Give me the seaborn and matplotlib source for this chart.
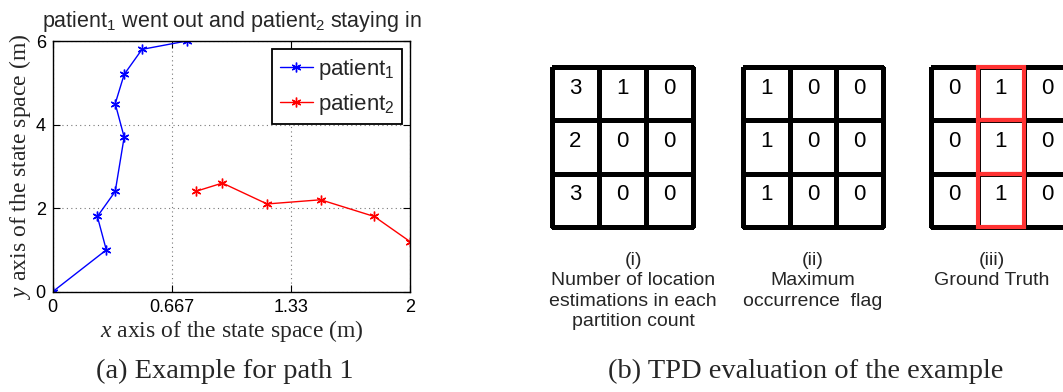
import numpy as np
import pandas as pd
import matplotlib
matplotlib.use("Agg")
import matplotlib.pyplot as plt
import seaborn as sns
from matplotlib.colors import ListedColormap
from matplotlib.patches import Rectangle

# ---------------- data ----------------
p1_x = [0.0, 0.30, 0.25, 0.35, 0.40, 0.35, 0.40, 0.50, 0.75]
p1_y = [0.0, 1.0, 1.8, 2.4, 3.7, 4.5, 5.2, 5.8, 6.0]
p2_x = [0.80, 0.95, 1.20, 1.50, 1.80, 2.00]
p2_y = [2.4, 2.6, 2.1, 2.2, 1.8, 1.2]
series_labels = ["patient$_1$", "patient$_2$"]
x_ticks = [0, 0.667, 1.333, 2]
x_tick_labels = ["0", "0.667", "1.33", "2"]
y_ticks = [0, 2, 4, 6]
y_tick_labels = ["0", "2", "4", "6"]

count_grid = [[3, 1, 0], [2, 0, 0], [3, 0, 0]]
flag_grid = [[1, 0, 0], [1, 0, 0], [1, 0, 0]]
truth_grid = [[0, 1, 0], [0, 1, 0], [0, 1, 0]]
grid_captions = ["(i)\nNumber of location\nestimations in each\npartition count",
                 "(ii)\nMaximum\noccurrence  flag",
                 "(iii)\nGround Truth"]

sns.set_style("ticks")
plt.rcParams["font.family"] = ["Liberation Sans", "DejaVu Sans"]
plt.rcParams["mathtext.fontset"] = "custom"
plt.rcParams["mathtext.rm"] = "Liberation Sans"
plt.rcParams["mathtext.it"] = "Liberation Serif:italic"

W, H = 1063, 392
fig = plt.figure(figsize=(W / 100, H / 100), dpi=100)

def px_rect(x0, y0, x1, y1):
    return [x0 / W, 1 - y1 / H, (x1 - x0) / W, (y1 - y0) / H]

# ---------------- (a) trajectory plot ----------------
ax = fig.add_axes(px_rect(52.7, 41, 410, 291.7))
ast = (6, 2, 0)
sns.lineplot(x=p1_x, y=p1_y, sort=False, estimator=None, color="blue",
             marker=ast, markersize=7, markeredgewidth=1.0, markeredgecolor="blue",
             linewidth=1.0, label=series_labels[0], ax=ax)
sns.lineplot(x=p2_x, y=p2_y, sort=False, estimator=None, color="red",
             marker=ast, markersize=7, markeredgewidth=1.0, markeredgecolor="red",
             linewidth=1.0, label=series_labels[1], ax=ax)
ax.set_xlim(0, 2)
ax.set_ylim(0, 6)
ax.set_xticks(x_ticks)
ax.set_xticklabels(x_tick_labels)
ax.set_yticks(y_ticks)
ax.set_yticklabels(y_tick_labels)
ax.tick_params(direction="in", top=True, right=True, length=5, width=0.8,
               labelsize=13, pad=5, colors="black")
for s in ax.spines.values():
    s.set_linewidth(1.0)
    s.set_color("black")
ax.grid(True, linestyle=(0, (1, 3)), color="#777777", linewidth=0.8)
ax.set_title("patient$_1$ went out and patient$_2$ staying in", fontsize=15.5, pad=10)
ax.set_xlabel("$x$ axis of the state space (m)", fontsize=17, family="Liberation Serif", labelpad=2)
ax.set_ylabel("$y$ axis of the state space (m)", fontsize=17, family="Liberation Serif", labelpad=2)
leg = ax.legend(loc="upper right", fontsize=16, frameon=True, fancybox=False,
                edgecolor="black", framealpha=1, handlelength=1.5, handletextpad=0.2,
                borderpad=0.35, labelspacing=0.45, borderaxespad=0.35)
leg.get_frame().set_linewidth(1.3)

# ---------------- (b) TPD grids ----------------
white = ListedColormap(["white"])
grid_lw = 2.2
grid_boxes = [(552, 693), (743, 883), (931, 1071)]
caption_x = [633, 813, 992]
grids = [count_grid, flag_grid, truth_grid]
for k, (g, (x0, x1)) in enumerate(zip(grids, grid_boxes)):
    gax = fig.add_axes(px_rect(x0, 67, x1, 227))
    df = pd.DataFrame(g)
    sns.heatmap(df, annot=True, fmt="d", cmap=white, cbar=False, linewidths=grid_lw,
                linecolor="black", xticklabels=False, yticklabels=False, ax=gax,
                annot_kws={"fontsize": 16, "color": "black", "va": "baseline"})
    gax.collections[0].set_clip_on(False)
    if k == 2:
        for (r, c) in np.argwhere(np.array(g) == 1):
            gax.add_patch(Rectangle((c, r), 1, 1, fill=False, edgecolor="#ff3333",
                                    linewidth=grid_lw * 1.35, clip_on=False, zorder=5))
    gax.tick_params(left=False, bottom=False)
    fig.text(caption_x[k] / W, 1 - 252 / H, grid_captions[k], ha="center", va="top",
             fontsize=14, linespacing=1.25)

# ---------------- captions ----------------
fig.text(225 / W, 1 - 378 / H, "(a) Example for path 1", ha="center", va="baseline",
         fontsize=20.5, family="Liberation Serif")
fig.text(806 / W, 1 - 378 / H, "(b) TPD evaluation of the example", ha="center",
         va="baseline", fontsize=20.5, family="Liberation Serif")

fig.savefig("out.png", dpi=100)
